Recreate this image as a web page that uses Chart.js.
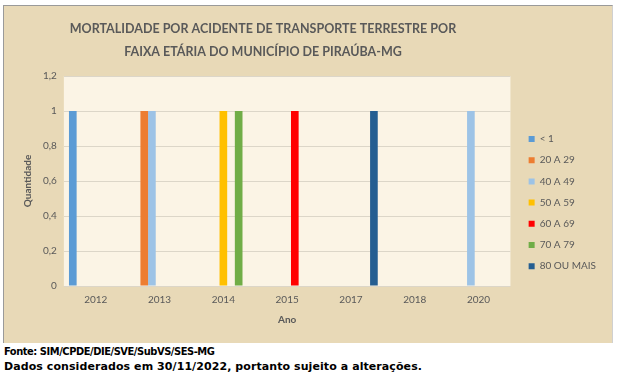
<!DOCTYPE html>
<html lang="pt-BR">
<head>
<meta charset="utf-8">
<script src="https://cdn.jsdelivr.net/npm/chart.js@4"></script>
<style>
  body { margin: 0; background: #fff; width: 618px; height: 380px; position: relative; overflow: hidden; }
  #painel {
    position: absolute; left: 3px; top: 5px; width: 608px; height: 337px;
    border-left: 1px solid #9a9a9a; border-top: 1px solid #9a9a9a; border-right: 1px solid #d0d0d0;
    background: #e8d9b7;
  }
  #painel canvas { position: absolute; left: 0; top: 0; }
  .rodape {
    position: absolute; left: 4px;
    font-family: "DejaVu Sans", sans-serif;
    font-weight: bold; font-size: 11px; color: #000; white-space: nowrap;
  }
</style>
</head>
<body>
<div id="painel"><canvas id="grafico" width="608" height="337"></canvas></div>
<div class="rodape" style="top:345px; font-family:'DejaVu Sans Condensed','DejaVu Sans',sans-serif; letter-spacing:-0.45px">Fonte: SIM/CPDE/DIE/SVE/SubVS/SES-MG</div>
<div class="rodape" style="top:360px; letter-spacing:0.08px">Dados considerados em 30/11/2022, portanto sujeito a alterações.</div>
<script>
// Dados
const anos = ['2012', '2013', '2014', '2015', '2017', '2018', '2020'];
const faixas = ['< 1', '20 A 29', '40 A 49', '50 A 59', '60 A 69', '70 A 79', '80 OU MAIS'];
const menorQue1 = [1, 0, 0, 0, 0, 0, 0];
const de20a29 = [0, 1, 0, 0, 0, 0, 0];
const de40a49 = [0, 1, 0, 0, 0, 0, 1];
const de50a59 = [0, 0, 1, 0, 0, 0, 0];
const de60a69 = [0, 0, 0, 1, 0, 0, 0];
const de70a79 = [0, 0, 1, 0, 0, 0, 0];
const de80mais = [0, 0, 0, 0, 1, 0, 0];
const cores = ['#5b9bd5', '#ed7d31', '#9dc3e6', '#ffc000', '#ff0000', '#70ad47', '#255e91'];

const series = [menorQue1, de20a29, de40a49, de50a59, de60a69, de70a79, de80mais];
const cinza = '#595959';
const fonte = 'Lato, "Open Sans", sans-serif';

// fundo claro da área de plotagem
const fundoPlot = {
    id: 'fundoPlot',
    beforeDraw(chart) {
        const { ctx, chartArea: a } = chart;
        ctx.save();
        ctx.fillStyle = '#fbf4e5';
        ctx.fillRect(a.left, a.top, a.right - a.left, a.bottom - a.top);
        ctx.restore();
    }
};

// título um pouco à esquerda e legenda um pouco à direita, como no original
const ajuste = {
    id: 'ajuste',
    afterLayout(chart) {
        chart.titleBlock.left = 0;
        chart.titleBlock.right = 518;
        chart.legend.left += 7;
        chart.legend.right += 7;
    }
};

new Chart(document.getElementById('grafico'), {
    type: 'bar',
    data: {
        labels: anos,
        datasets: faixas.map((nome, i) => ({
            label: nome,
            data: series[i],
            backgroundColor: cores[i],
            borderWidth: 0,
            categoryPercentage: 0.84,
            barPercentage: 1.0
        }))
    },
    options: {
        responsive: false,
        animation: false,
        layout: { padding: { left: 12, right: 13, top: 0, bottom: 13 } },
        plugins: {
            title: {
                display: true,
                text: ['MORTALIDADE POR ACIDENTE DE TRANSPORTE TERRESTRE POR', 'FAIXA ETÁRIA DO MUNICÍPIO DE PIRAÚBA-MG'],
                color: cinza,
                font: { family: fonte, size: 12.5, weight: 'bold', lineHeight: 1.84 },
                padding: { top: 11, bottom: 13 }
            },
            legend: {
                position: 'right',
                title: { display: true, text: ' ', font: { size: 1 }, padding: { top: 68, bottom: 0 } },
                labels: {
                    color: cinza,
                    font: { family: fonte, size: 10 },
                    boxWidth: 6,
                    boxHeight: 6,
                    padding: 11.2
                }
            },
            tooltip: { enabled: false }
        },
        scales: {
            x: {
                grid: { display: false },
                border: { display: false },
                ticks: { color: cinza, font: { family: fonte, size: 10 }, padding: 0 },
                title: { display: true, text: 'Ano', color: cinza, font: { family: fonte, size: 10, weight: 'bold' }, padding: { top: 8 } }
            },
            y: {
                min: 0,
                max: 1.2,
                ticks: {
                    stepSize: 0.2,
                    color: cinza,
                    font: { family: fonte, size: 10 },
                    padding: 7,
                    callback: v => v.toLocaleString('pt-BR', { maximumFractionDigits: 1 })
                },
                grid: { color: '#dcd6c8', drawTicks: false },
                border: { display: false },
                title: { display: true, text: 'Quantidade', color: cinza, font: { family: fonte, size: 10, weight: 'bold' }, padding: { top: 6, bottom: 2 } }
            }
        }
    },
    plugins: [fundoPlot, ajuste]
});
</script>
</body>
</html>
